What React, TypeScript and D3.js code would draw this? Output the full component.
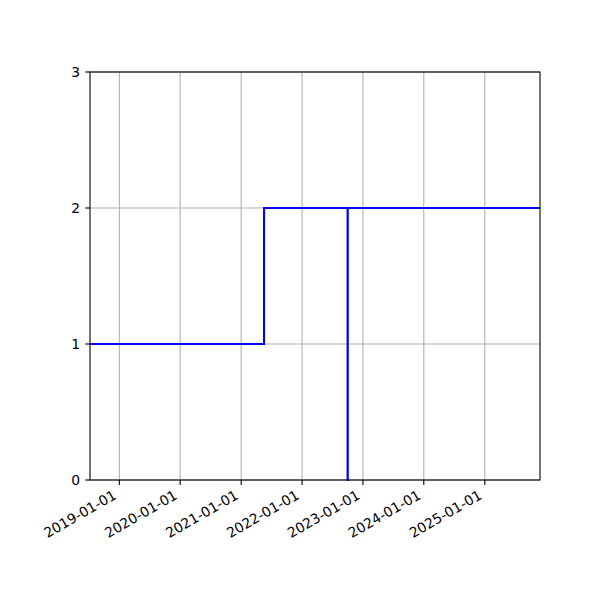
import { useMemo } from 'react';
import * as d3 from 'd3';

// Step series (value changes on each date, held until the next one)
const STEP_DATES = ['2018-07-09', '2021-05-18', '2022-10-01', '2022-10-02', '2025-11-28'];
const STEP_VALUES = [1, 2, 0, 2, 2];

const X_TICKS = ['2019-01-01', '2020-01-01', '2021-01-01', '2022-01-01', '2023-01-01', '2024-01-01', '2025-01-01'];
const Y_TICKS = [0, 1, 2, 3];

const WIDTH = 600;
const HEIGHT = 600;
const margin = { top: 72, right: 60, bottom: 120, left: 90 };
const FONT = '"DejaVu Sans", sans-serif';

export default function App() {
  const parse = d3.utcParse('%Y-%m-%d');
  const points = STEP_DATES.map((d, i) => ({ date: parse(d) as Date, value: STEP_VALUES[i] }));

  const x = useMemo(
    () =>
      d3
        .scaleUtc()
        .domain(d3.extent(points, (p) => p.date) as [Date, Date])
        .range([margin.left, WIDTH - margin.right]),
    []
  );
  const y = d3.scaleLinear().domain([0, 3]).range([HEIGHT - margin.bottom, margin.top]);

  const line = d3
    .line<{ date: Date; value: number }>()
    .x((p) => x(p.date))
    .y((p) => y(p.value))
    .curve(d3.curveStepAfter);

  const x0 = margin.left;
  const x1 = WIDTH - margin.right;
  const y0 = HEIGHT - margin.bottom;
  const y1 = margin.top;

  return (
    <div style={{ position: 'absolute', left: 0, top: 0 }}>
      <svg width={WIDTH} height={HEIGHT} style={{ display: 'block', background: '#fff' }}>
        {/* grid */}
        <g stroke="#b0b0b0" strokeWidth={1.1}>
          {X_TICKS.map((t) => {
            const px = x(parse(t) as Date);
            return <line key={t} x1={px} x2={px} y1={y0} y2={y1} />;
          })}
          {Y_TICKS.map((t) => (
            <line key={t} x1={x0} x2={x1} y1={y(t)} y2={y(t)} />
          ))}
        </g>

        {/* series */}
        <path d={line(points) || ''} fill="none" stroke="#0000ff" strokeWidth={2.08} />

        {/* spines */}
        <rect x={x0} y={y1} width={x1 - x0} height={y0 - y1} fill="none" stroke="#000" strokeWidth={1.1} />

        {/* x axis */}
        <g fontFamily={FONT} fontSize={13.9} fill="#000">
          {X_TICKS.map((t) => {
            const px = x(parse(t) as Date);
            return (
              <g key={t}>
                <line x1={px} x2={px} y1={y0} y2={y0 + 4.9} stroke="#000" strokeWidth={1.1} />
                <text transform={`translate(${px - 2},${y0 + 18}) rotate(-30)`} textAnchor="end">
                  {t}
                </text>
              </g>
            );
          })}
        </g>

        {/* y axis */}
        <g fontFamily={FONT} fontSize={13.9} fill="#000">
          {Y_TICKS.map((t) => (
            <g key={t}>
              <line x1={x0 - 4.9} x2={x0} y1={y(t)} y2={y(t)} stroke="#000" strokeWidth={1.1} />
              <text x={x0 - 9.8} y={y(t)} dy="0.36em" textAnchor="end">
                {t}
              </text>
            </g>
          ))}
        </g>
      </svg>
    </div>
  );
}
